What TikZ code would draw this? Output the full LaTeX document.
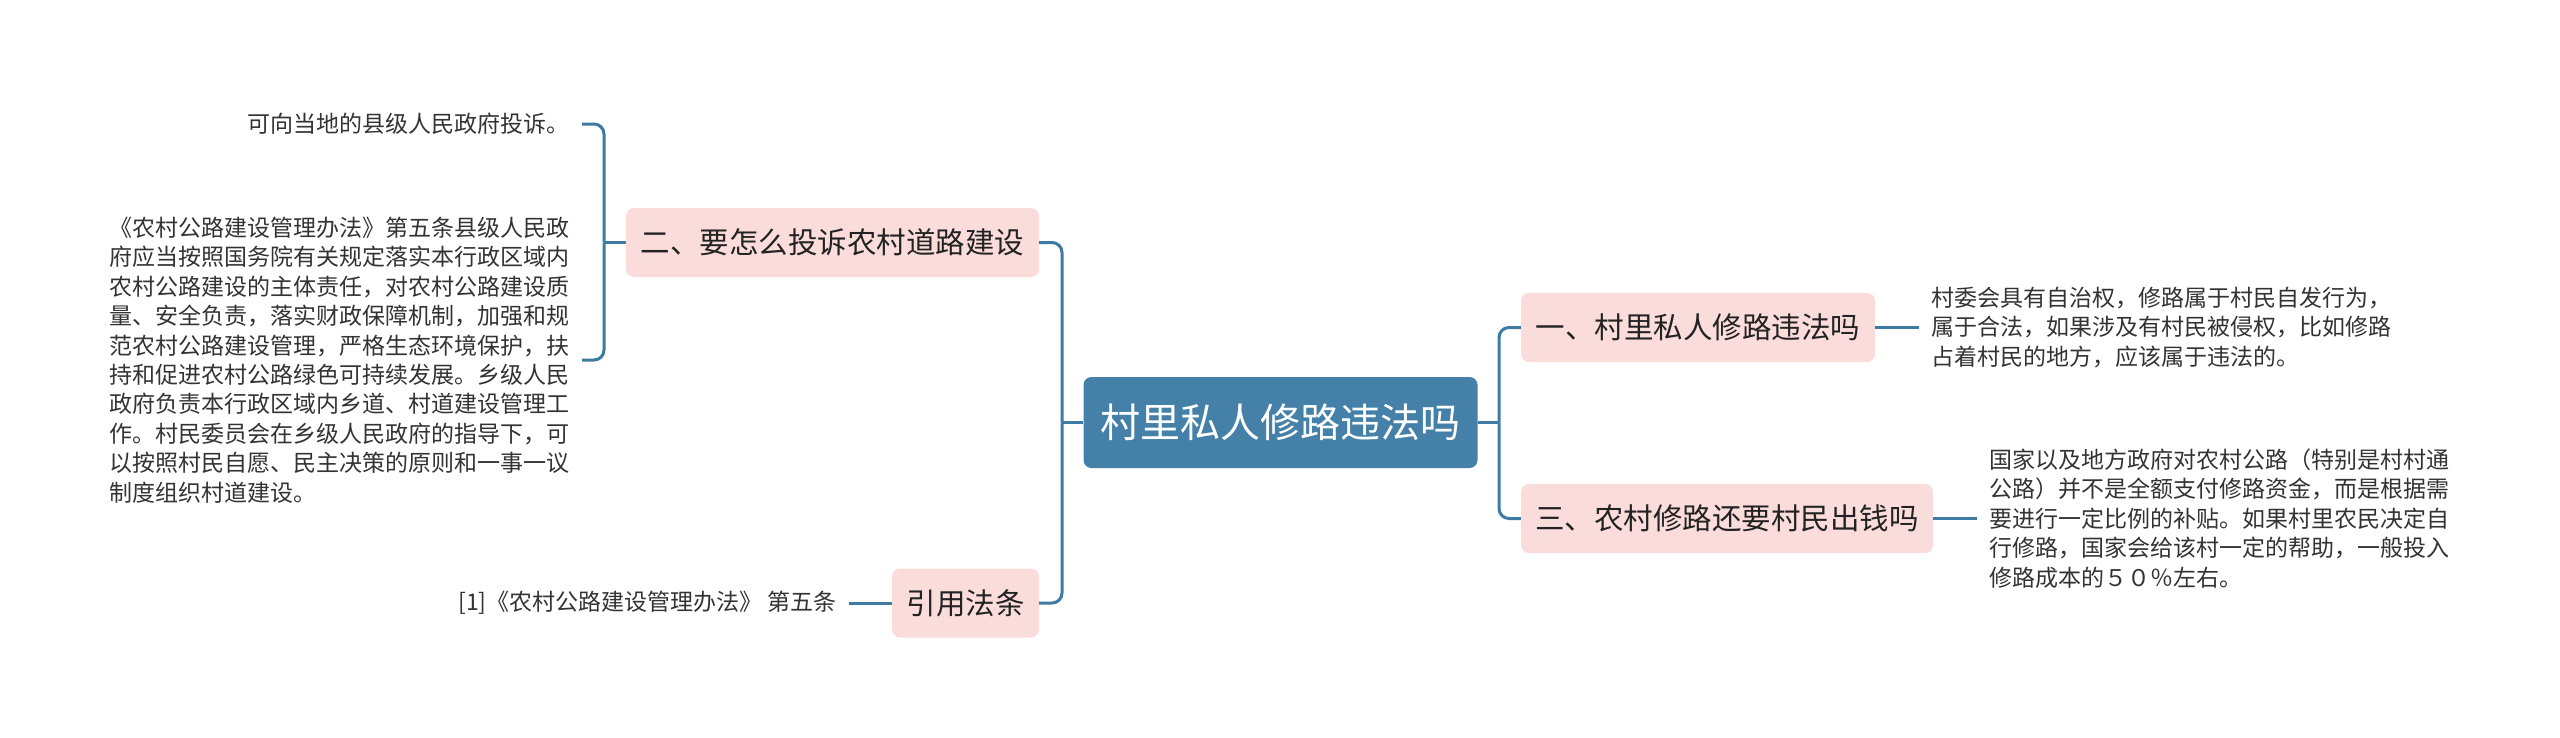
\documentclass[tikz,border=0pt]{standalone}
\usepackage{fontspec}
\setmainfont{Noto Sans CJK SC}
\definecolor{conn}{HTML}{3D7BA3}
\definecolor{rootfill}{HTML}{4480A8}
\definecolor{pinkfill}{HTML}{FADCDB}
\definecolor{txt}{HTML}{333333}
\definecolor{btxt}{HTML}{222222}
\tikzset{
 rootbox/.style={fill=rootfill, rounded corners=8pt, minimum width=394pt, minimum height=91pt, inner sep=0pt, text=white, font=\fontsize{40}{46}\selectfont},
 branchbox/.style={fill=pinkfill, rounded corners=8pt, minimum height=69pt, inner sep=0pt, text=btxt, font=\fontsize{29.5}{34}\selectfont},
 leaf/.style={inner sep=12pt, align=left, text=txt, font=\fontsize{23}{29.4}\selectfont},
 link/.style={draw=conn, line width=3pt, rounded corners=10pt},
}
\begin{document}
\begin{tikzpicture}[x=1pt,y=-1pt]
\fill[white] (0,0) rectangle (2560,737);
\useasboundingbox (0,0) rectangle (2560,737);
% main nodes
\node[rootbox] (root) at (1280.5,422.5) {村里私人修路违法吗};
\node[branchbox, minimum width=413pt] (n2) at (832.5,242.5) {二、要怎么投诉农村道路建设};
\node[branchbox, minimum width=147pt] (n4) at (965.5,603) {引用法条};
\node[branchbox, minimum width=354pt] (n1) at (1698,327.5) {一、村里私人修路违法吗};
\node[branchbox, minimum width=412pt] (n3) at (1727,518.5) {三、农村修路还要村民出钱吗};
% leaves
\node[leaf, anchor=east] (c21) at (582,124) {可向当地的县级人民政府投诉。};
\node[leaf, anchor=east] (c22) at (582,360) {《农村公路建设管理办法》第五条县级人民政\\府应当按照国务院有关规定落实本行政区域内\\农村公路建设的主体责任，对农村公路建设质\\量、安全负责，落实财政保障机制，加强和规\\范农村公路建设管理，严格生态环境保护，扶\\持和促进农村公路绿色可持续发展。乡级人民\\政府负责本行政区域内乡道、村道建设管理工\\作。村民委员会在乡级人民政府的指导下，可\\以按照村民自愿、民主决策的原则和一事一议\\制度组织村道建设。};
\node[leaf, anchor=east] (l4) at (849,603) {[1]《农村公路建设管理办法》 第五条};
\node[leaf, anchor=west] (l1) at (1919,327.5) {村委会具有自治权，修路属于村民自发行为，\\属于合法，如果涉及有村民被侵权，比如修路\\占着村民的地方，应该属于违法的。};
\node[leaf, anchor=west] (l3) at (1977,518.5) {国家以及地方政府对农村公路（特别是村村通\\公路）并不是全额支付修路资金，而是根据需\\要进行一定比例的补贴。如果村里农民决定自\\行修路，国家会给该村一定的帮助，一般投入\\修路成本的５０％左右。};
% junctions
\coordinate (jl) at (1062,422.5);
\coordinate (jr) at (1499,422.5);
\coordinate (j2) at (604,242.5);
% connectors
\draw[link] (root.west) -- (jl);
\draw[link] (jl) |- (n2.east);
\draw[link] (jl) |- (n4.east);
\draw[link] (root.east) -- (jr);
\draw[link] (jr) |- (n1.west);
\draw[link] (jr) |- (n3.west);
\draw[link] (n2.west) -- (j2);
\draw[link] (j2) |- (c21.east);
\draw[link] (j2) |- (c22.east);
\draw[link] (n1.east) -- (l1.west);
\draw[link] (n3.east) -- (l3.west);
\draw[link] (n4.west) -- (l4.east);
\end{tikzpicture}
\end{document}
